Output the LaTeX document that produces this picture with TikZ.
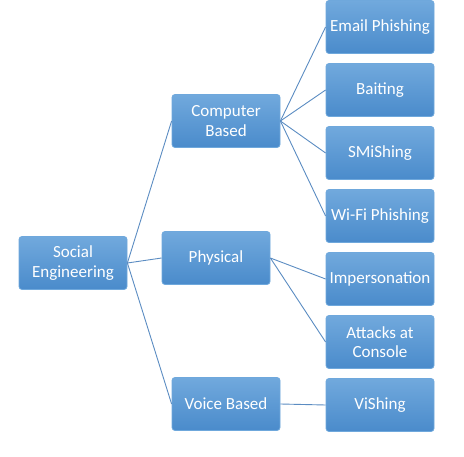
\documentclass[tikz,border=0pt]{standalone}
\usepackage{fontspec}
\setmainfont{Carlito}
\definecolor{boxtop}{HTML}{71A9DD}
\definecolor{boxbot}{HTML}{4A8BCB}
\definecolor{boxline}{HTML}{6FA8DC}
\definecolor{linkblue}{HTML}{5B8CC2}
\begin{document}
\begin{tikzpicture}[x=1pt, y=-1pt,
    box/.style={rectangle, rounded corners=3pt, draw=boxline, line width=0.8pt, top color=boxtop, bottom color=boxbot, text=white, minimum width=108pt, minimum height=53pt, inner sep=0pt, align=center, font=\fontsize{17}{19.5}\selectfont},
    link/.style={draw=linkblue, line width=0.9pt}
]
    \useasboundingbox (0,0) rectangle (464,457);
    % Root
    \node[box] (root) at (73, 263) {Social\\Engineering};

    % Middle level
    \node[box] (comp) at (226, 121) {Computer\\Based};
    \node[box] (phys) at (216, 258) {Physical};
    \node[box] (voice) at (226, 404) {Voice Based};

    % Leaves
    \node[box] (email) at (380, 27) {Email Phishing};
    \node[box] (bait) at (380, 90) {Baiting};
    \node[box] (smish) at (380, 153) {SMiShing};
    \node[box] (wifi) at (380, 216) {Wi-Fi Phishing};
    \node[box] (imper) at (380, 279) {Impersonation};
    \node[box] (console) at (380, 342) {Attacks at\\Console};
    \node[box] (vish) at (380, 405) {ViShing};

    % Links from root
    \draw[link] (root.east) -- (comp.west);
    \draw[link] (root.east) -- (phys.west);
    \draw[link] (root.east) -- (voice.west);

    % Links to leaves
    \draw[link] (comp.east) -- (email.west);
    \draw[link] (comp.east) -- (bait.west);
    \draw[link] (comp.east) -- (smish.west);
    \draw[link] (comp.east) -- (wifi.west);
    \draw[link] (phys.east) -- (imper.west);
    \draw[link] (phys.east) -- (console.west);
    \draw[link] (voice.east) -- (vish.west);
\end{tikzpicture}
\end{document}
